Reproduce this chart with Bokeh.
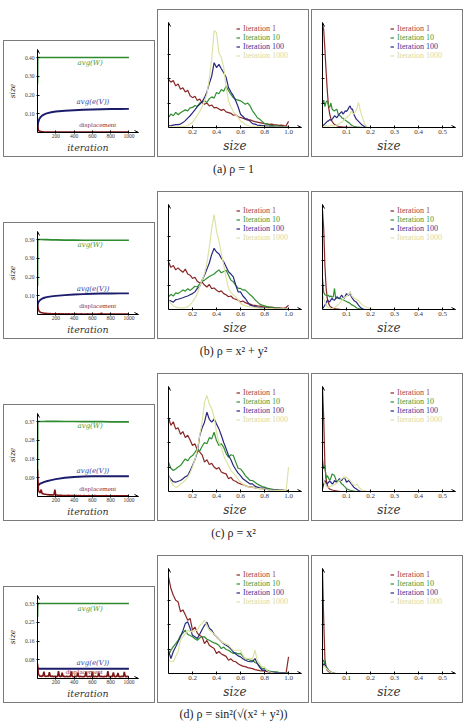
from bokeh.plotting import figure
from bokeh.layouts import column, row
from bokeh.models import (Range1d, FixedTicker, Arrow, OpenHead, Legend, LegendItem,
                          Label, Spacer)
from bokeh.core.validation import silence
from bokeh.core.validation.warnings import MISSING_RENDERERS
from bokeh.embed import file_html
from bokeh.resources import INLINE

silence(MISSING_RENDERERS, True)

# ---------------------------------------------------------------- sampling grids
ITER = [0, 2, 5, 10, 20, 30, 50, 75, 100, 150, 200, 300, 400, 500, 600, 700, 800, 900, 1000]
ITER_D = list(range(0, 1001, 10))
SIZE_MID = [round(0.02 * i, 2) for i in range(51)]
SIZE_RIGHT = [round(0.005 * i, 3) for i in range(51)] + [0.5]

ITER_TICKS = [200, 400, 600, 800, 1000]
ITER_TICK_LABELS = ["200", "400", "600", "800", "1000"]
MID_TICKS = [0.2, 0.4, 0.6, 0.8, 1.0]
MID_TICK_LABELS = ["0.2", "0.4", "0.6", "0.8", "1.0"]
RIGHT_TICKS = [0.1, 0.2, 0.3, 0.4, 0.5]
RIGHT_TICK_LABELS = ["0.1", "0.2", "0.3", "0.4", "0.5"]
DENSITY_TICKS = [1, 2, 3]

LEGEND_LABELS = ["Iteration 1", "Iteration 10", "Iteration 100", "Iteration 1000"]
CAPTIONS = ["(a) ρ = 1", "(b) ρ = x² + y²", "(c) ρ = x²", "(d) ρ = sin²(√(x² + y²))"]

# ---------------------------------------------------------------- (a) rho = 1
W_A = [0.26, 0.40, 0.40, 0.40, 0.40, 0.40, 0.40, 0.40, 0.40, 0.40, 0.40, 0.40, 0.40, 0.40, 0.40, 0.40, 0.40, 0.40, 0.40]
EV_A = [0.005, 0.030, 0.045, 0.058, 0.072, 0.080, 0.090, 0.097, 0.102, 0.108, 0.112, 0.116, 0.119, 0.121, 0.123, 0.124, 0.125, 0.125, 0.126]
D_A = [0.040, 0.012, 0.008, 0.006, 0.005, 0.004, 0.004, 0.003, 0.003, 0.003,
       0.003, 0.003, 0.002, 0.003, 0.002, 0.002, 0.002, 0.002, 0.002, 0.002,
       0.002, 0.002, 0.002, 0.002, 0.002, 0.002, 0.002, 0.002, 0.002, 0.002,
       0.002, 0.002, 0.002, 0.002, 0.002, 0.002, 0.002, 0.002, 0.002, 0.002,
       0.002, 0.002, 0.002, 0.002, 0.002, 0.002, 0.002, 0.002, 0.002, 0.002,
       0.002, 0.002, 0.002, 0.002, 0.002, 0.002, 0.002, 0.002, 0.002, 0.002,
       0.002, 0.002, 0.002, 0.002, 0.002, 0.002, 0.002, 0.002, 0.002, 0.002,
       0.002, 0.002, 0.002, 0.002, 0.002, 0.002, 0.002, 0.002, 0.002, 0.002,
       0.002, 0.002, 0.002, 0.002, 0.002, 0.002, 0.002, 0.002, 0.002, 0.002,
       0.002, 0.002, 0.002, 0.002, 0.002, 0.002, 0.002, 0.002, 0.002, 0.002,
       0.002]
Y_TICKS_A = [0.1, 0.2, 0.3, 0.4]
Y_LABELS_A = ["0.10", "0.20", "0.30", "0.40"]

HA1 = [1.97, 1.85, 1.92, 1.70, 1.78, 1.56, 1.62, 1.45, 1.52, 1.30,
       1.22, 1.28, 1.10, 1.16, 1.02, 0.95, 1.00, 0.88, 0.92, 0.80,
       0.82, 0.76, 0.70, 0.74, 0.64, 0.61, 0.58, 0.50, 0.52, 0.44,
       0.41, 0.38, 0.34, 0.30, 0.31, 0.27, 0.24, 0.22, 0.20, 0.18,
       0.16, 0.15, 0.13, 0.14, 0.11, 0.11, 0.09, 0.10, 0.08, 0.07, 0.25]
HA10 = [0.41, 0.55, 0.48, 0.62, 0.52, 0.60, 0.66, 0.72, 0.68, 0.80,
        0.82, 0.90, 0.86, 1.00, 1.05, 1.09, 1.02, 1.18, 1.25, 1.20,
        1.43, 1.38, 1.55, 1.48, 1.70, 1.50, 1.35, 1.22, 1.15, 1.12,
        1.09, 1.02, 0.95, 1.00, 0.88, 0.68, 0.55, 0.40, 0.34, 0.25,
        0.16, 0.14, 0.10, 0.09, 0.07, 0.07, 0.05, 0.05, 0.04, 0.03, 0.03]
HA100 = [0.07, 0.08, 0.10, 0.12, 0.12, 0.14, 0.20, 0.28, 0.38, 0.48,
         0.60, 0.72, 0.85, 0.95, 1.05, 1.22, 1.45, 1.80, 2.10, 2.65,
         2.45, 2.58, 2.40, 2.24, 2.05, 1.63, 1.45, 1.30, 1.09, 0.85,
         0.54, 0.45, 0.36, 0.34, 0.25, 0.16, 0.14, 0.10, 0.09, 0.08,
         0.07, 0.06, 0.05, 0.05, 0.04, 0.03, 0.03, 0.03, 0.02, 0.02, 0.02]
HA1000 = [0.03, 0.03, 0.02, 0.03, 0.03, 0.03, 0.04, 0.05, 0.08, 0.15,
          0.20, 0.35, 0.50, 0.65, 0.85, 1.09, 1.36, 2.00, 2.80, 3.95,
          3.88, 3.05, 2.86, 2.45, 1.63, 1.09, 0.85, 0.65, 0.54, 0.40,
          0.27, 0.20, 0.12, 0.08, 0.06, 0.05, 0.04, 0.03, 0.03, 0.03,
          0.03, 0.02, 0.02, 0.02, 0.02, 0.02, 0.02, 0.02, 0.02, 0.02, 0.02]

RA1 = [4.22, 4.00, 3.20, 2.30, 1.50, 0.85, 0.55, 0.35, 0.25, 0.18,
       0.12, 0.10, 0.07, 0.05, 0.04, 0.03, 0.03, 0.02, 0.02, 0.02,
       0.01, 0.01, 0.01, 0.01, 0.01, 0.00, 0.00, 0.00, 0.00, 0.00,
       0.00, 0.00, 0.00, 0.00, 0.00, 0.00, 0.00, 0.00, 0.00, 0.00,
       0.00, 0.00, 0.00, 0.00, 0.00, 0.00, 0.00, 0.00, 0.00, 0.00, 0.00, 0.00]
RA10 = [0.95, 1.12, 0.85, 1.05, 1.10, 0.90, 0.82, 1.00, 0.75, 0.70,
        0.68, 0.72, 0.75, 0.55, 0.48, 0.48, 0.40, 0.38, 0.34, 0.30,
        0.27, 0.22, 0.20, 0.15, 0.10, 0.07, 0.05, 0.04, 0.03, 0.02,
        0.02, 0.01, 0.01, 0.01, 0.00, 0.00, 0.00, 0.00, 0.00, 0.00,
        0.00, 0.00, 0.00, 0.00, 0.00, 0.00, 0.00, 0.00, 0.00, 0.00, 0.00, 0.00]
RA100 = [0.07, 0.10, 0.15, 0.20, 0.25, 0.27, 0.32, 0.30, 0.34, 0.40,
         0.48, 0.44, 0.40, 0.48, 0.55, 0.60, 0.65, 0.55, 0.61, 0.68,
         0.66, 0.72, 0.82, 0.88, 0.75, 0.75, 0.55, 0.45, 0.35, 0.30,
         0.25, 0.20, 0.15, 0.10, 0.07, 0.04, 0.02, 0.01, 0.00, 0.00,
         0.00, 0.00, 0.00, 0.00, 0.00, 0.00, 0.00, 0.00, 0.00, 0.00, 0.00, 0.00]
RA1000 = [0.00, 0.03, 0.05, 0.08, 0.06, 0.05, 0.07, 0.10, 0.08, 0.05,
          0.06, 0.08, 0.10, 0.12, 0.15, 0.20, 0.22, 0.27, 0.30, 0.35,
          0.40, 0.45, 0.48, 0.55, 0.68, 0.60, 0.55, 0.62, 0.70, 0.85,
          1.02, 0.80, 0.60, 0.45, 0.30, 0.15, 0.08, 0.04, 0.02, 0.01,
          0.00, 0.00, 0.00, 0.00, 0.00, 0.00, 0.00, 0.00, 0.00, 0.00, 0.00, 0.00]

# ---------------------------------------------------------------- (b) rho = x^2 + y^2
W_B = [0.15, 0.394, 0.394, 0.394, 0.394, 0.394, 0.394, 0.393, 0.393, 0.392, 0.392, 0.391, 0.391, 0.390, 0.390, 0.390, 0.390, 0.390, 0.390]
EV_B = [0.040, 0.050, 0.058, 0.065, 0.072, 0.077, 0.083, 0.088, 0.091, 0.095, 0.098, 0.102, 0.105, 0.107, 0.109, 0.110, 0.110, 0.111, 0.111]
D_B = [0.050, 0.025, 0.016, 0.012, 0.010, 0.009, 0.008, 0.007, 0.006, 0.006,
       0.005, 0.005, 0.005, 0.004, 0.005, 0.004, 0.004, 0.004, 0.004, 0.004,
       0.004, 0.004, 0.003, 0.004, 0.004, 0.003, 0.004, 0.003, 0.004, 0.003,
       0.003, 0.004, 0.003, 0.003, 0.004, 0.003, 0.003, 0.003, 0.004, 0.003,
       0.003, 0.003, 0.004, 0.003, 0.003, 0.003, 0.003, 0.003, 0.004, 0.003,
       0.003, 0.003, 0.003, 0.003, 0.003, 0.004, 0.003, 0.003, 0.003, 0.003,
       0.003, 0.003, 0.003, 0.003, 0.003, 0.003, 0.003, 0.004, 0.003, 0.003,
       0.008, 0.003, 0.003, 0.003, 0.003, 0.003, 0.003, 0.003, 0.003, 0.003,
       0.003, 0.003, 0.003, 0.003, 0.003, 0.003, 0.003, 0.003, 0.003, 0.003,
       0.003, 0.003, 0.003, 0.003, 0.003, 0.003, 0.003, 0.003, 0.003, 0.003,
       0.003]
Y_TICKS_B = [0.0985, 0.197, 0.2955, 0.394]
Y_LABELS_B = ["0.10", "0.20", "0.30", "0.39"]

HB1 = [1.95, 1.72, 1.80, 1.62, 1.70, 1.60, 1.52, 1.65, 1.45, 1.40,
       1.27, 1.32, 1.15, 1.08, 1.12, 1.00, 0.92, 1.02, 0.85, 0.88,
       0.79, 0.72, 0.76, 0.65, 0.60, 0.52, 0.55, 0.45, 0.42, 0.38,
       0.31, 0.35, 0.28, 0.24, 0.22, 0.18, 0.17, 0.15, 0.14, 0.12,
       0.11, 0.10, 0.09, 0.10, 0.08, 0.07, 0.07, 0.06, 0.05, 0.08, 0.18]
HB10 = [0.52, 0.62, 0.55, 0.68, 0.65, 0.72, 0.80, 0.75, 0.85, 0.78,
        0.86, 0.95, 0.92, 1.05, 1.15, 1.20, 1.28, 1.35, 1.40, 1.45,
        1.54, 1.62, 1.50, 1.55, 1.60, 1.40, 1.20, 1.13, 1.00, 0.86,
        0.86, 0.80, 0.79, 0.70, 0.60, 0.52, 0.40, 0.31, 0.22, 0.18,
        0.15, 0.12, 0.10, 0.08, 0.07, 0.06, 0.05, 0.04, 0.04, 0.03, 0.03]
HB100 = [0.38, 0.35, 0.30, 0.40, 0.42, 0.45, 0.48, 0.52, 0.55, 0.60,
         0.65, 0.72, 0.86, 0.95, 1.20, 1.40, 1.65, 1.90, 2.25, 2.50,
         2.35, 2.28, 2.10, 1.95, 1.75, 1.54, 1.45, 1.33, 1.00, 0.72,
         0.72, 0.55, 0.45, 0.30, 0.18, 0.15, 0.12, 0.10, 0.08, 0.07,
         0.06, 0.05, 0.05, 0.04, 0.04, 0.03, 0.03, 0.03, 0.02, 0.02, 0.02]
HB1000 = [0.38, 0.25, 0.15, 0.10, 0.08, 0.07, 0.06, 0.08, 0.11, 0.20,
          0.31, 0.45, 0.65, 0.95, 1.20, 1.47, 1.90, 2.55, 3.30, 3.88,
          3.20, 2.80, 2.30, 1.80, 1.30, 0.86, 0.70, 0.60, 0.52, 0.40,
          0.24, 0.20, 0.15, 0.13, 0.11, 0.10, 0.08, 0.07, 0.06, 0.05,
          0.05, 0.04, 0.04, 0.04, 0.03, 0.03, 0.03, 0.03, 0.03, 0.03, 0.03]

RB1 = [4.05, 3.30, 1.80, 0.90, 0.45, 0.25, 0.15, 0.10, 0.07, 0.05,
       0.04, 0.03, 0.02, 0.02, 0.01, 0.00, 0.00, 0.00, 0.00, 0.00,
       0.00, 0.00, 0.00, 0.00, 0.00, 0.00, 0.00, 0.00, 0.00, 0.00,
       0.00, 0.00, 0.00, 0.00, 0.00, 0.00, 0.00, 0.00, 0.00, 0.00,
       0.00, 0.00, 0.00, 0.00, 0.00, 0.00, 0.00, 0.00, 0.00, 0.00, 0.00, 0.00]
RB10 = [1.27, 0.70, 0.60, 0.58, 0.55, 0.58, 0.52, 0.55, 0.50, 0.52,
        0.86, 0.45, 0.48, 0.46, 0.44, 0.45, 0.42, 0.40, 0.38, 0.35,
        0.33, 0.30, 0.28, 0.25, 0.20, 0.18, 0.15, 0.12, 0.08, 0.05,
        0.04, 0.03, 0.02, 0.01, 0.00, 0.00, 0.00, 0.00, 0.00, 0.00,
        0.00, 0.00, 0.00, 0.00, 0.00, 0.00, 0.00, 0.00, 0.00, 0.00, 0.00, 0.00]
RB100 = [0.04, 0.10, 0.18, 0.28, 0.38, 0.35, 0.31, 0.40, 0.45, 0.40,
         0.38, 0.45, 0.52, 0.48, 0.45, 0.52, 0.59, 0.50, 0.45, 0.55,
         0.65, 0.60, 0.59, 0.72, 0.52, 0.45, 0.38, 0.34, 0.31, 0.25,
         0.18, 0.12, 0.07, 0.04, 0.02, 0.01, 0.00, 0.00, 0.00, 0.00,
         0.00, 0.00, 0.00, 0.00, 0.00, 0.00, 0.00, 0.00, 0.00, 0.00, 0.00, 0.00]
RB1000 = [0.59, 0.45, 0.31, 0.20, 0.11, 0.08, 0.06, 0.04, 0.04, 0.05,
          0.08, 0.11, 0.15, 0.20, 0.24, 0.30, 0.36, 0.42, 0.48, 0.52,
          0.52, 0.59, 0.62, 0.72, 0.60, 0.52, 0.50, 0.45, 0.42, 0.38,
          0.38, 0.30, 0.24, 0.20, 0.16, 0.13, 0.11, 0.09, 0.07, 0.05,
          0.04, 0.03, 0.02, 0.01, 0.00, 0.00, 0.00, 0.00, 0.00, 0.00, 0.00, 0.00]

# ---------------------------------------------------------------- (c) rho = x^2
W_C = [0.10, 0.368, 0.368, 0.368, 0.368, 0.368, 0.368, 0.368, 0.369, 0.369, 0.369, 0.368, 0.368, 0.367, 0.367, 0.367, 0.366, 0.366, 0.366]
EV_C = [0.040, 0.045, 0.050, 0.055, 0.060, 0.063, 0.067, 0.072, 0.075, 0.080, 0.085, 0.092, 0.096, 0.098, 0.099, 0.099, 0.099, 0.099, 0.099]
D_C = [0.134, 0.030, 0.022, 0.018, 0.034, 0.015, 0.014, 0.012, 0.011, 0.011,
       0.010, 0.009, 0.009, 0.008, 0.008, 0.008, 0.008, 0.007, 0.007, 0.034,
       0.007, 0.007, 0.006, 0.006, 0.006, 0.006, 0.006, 0.005, 0.005, 0.005,
       0.005, 0.005, 0.005, 0.005, 0.006, 0.005, 0.005, 0.005, 0.005, 0.005,
       0.005, 0.004, 0.005, 0.005, 0.004, 0.005, 0.004, 0.005, 0.004, 0.004,
       0.004, 0.005, 0.004, 0.004, 0.004, 0.004, 0.005, 0.004, 0.004, 0.004,
       0.004, 0.004, 0.004, 0.005, 0.004, 0.004, 0.004, 0.004, 0.004, 0.004,
       0.004, 0.004, 0.004, 0.004, 0.004, 0.005, 0.004, 0.004, 0.004, 0.004,
       0.004, 0.004, 0.004, 0.004, 0.004, 0.004, 0.004, 0.004, 0.004, 0.004,
       0.004, 0.004, 0.004, 0.004, 0.004, 0.004, 0.004, 0.004, 0.004, 0.004,
       0.004]
Y_TICKS_C = [0.092, 0.184, 0.276, 0.368]
Y_LABELS_C = ["0.09", "0.18", "0.28", "0.37"]

HC1 = [3.03, 2.70, 2.85, 2.55, 2.60, 2.34, 2.45, 2.20, 2.30, 2.10,
       1.88, 1.95, 1.70, 1.61, 1.50, 1.20, 1.30, 1.10, 1.15, 1.00,
       0.92, 0.98, 0.80, 0.75, 0.72, 0.52, 0.58, 0.45, 0.42, 0.35,
       0.31, 0.28, 0.24, 0.20, 0.19, 0.18, 0.15, 0.14, 0.12, 0.12,
       0.11, 0.09, 0.08, 0.08, 0.07, 0.07, 0.06, 0.05, 0.05, 0.04, 0.04]
HC10 = [1.20, 0.95, 0.86, 0.92, 1.00, 1.06, 1.20, 1.33, 1.25, 1.40,
        1.47, 1.60, 1.74, 1.65, 1.85, 2.00, 1.95, 2.20, 2.15, 2.42,
        2.08, 1.88, 1.95, 1.80, 1.55, 1.40, 1.50, 1.47, 1.20, 0.95,
        0.92, 0.80, 0.65, 0.55, 0.45, 0.45, 0.38, 0.31, 0.25, 0.20,
        0.18, 0.14, 0.12, 0.10, 0.08, 0.08, 0.06, 0.05, 0.05, 0.04, 0.04]
HC100 = [0.65, 0.50, 0.40, 0.38, 0.42, 0.45, 0.52, 0.60, 0.65, 0.85,
         1.06, 1.30, 1.60, 2.28, 2.60, 2.83, 3.24, 2.95, 2.83, 2.97,
         2.76, 2.56, 2.30, 2.00, 1.75, 1.47, 1.30, 1.06, 0.90, 0.75,
         0.65, 0.52, 0.45, 0.38, 0.31, 0.31, 0.22, 0.18, 0.15, 0.14,
         0.14, 0.10, 0.08, 0.08, 0.07, 0.07, 0.05, 0.05, 0.04, 0.04, 0.04]
HC1000 = [0.65, 0.40, 0.25, 0.18, 0.20, 0.31, 0.38, 0.45, 0.59, 0.75,
          1.00, 1.30, 1.70, 2.30, 2.83, 3.65, 3.92, 3.58, 3.38, 3.03,
          2.42, 2.00, 1.80, 1.47, 1.25, 1.06, 0.85, 0.75, 0.65, 0.50,
          0.38, 0.30, 0.24, 0.20, 0.18, 0.18, 0.15, 0.13, 0.12, 0.11,
          0.11, 0.08, 0.07, 0.06, 0.05, 0.05, 0.05, 0.04, 0.04, 0.04, 0.99]

RC1 = [4.26, 3.00, 1.06, 0.52, 0.25, 0.15, 0.10, 0.08, 0.06, 0.05,
       0.04, 0.03, 0.02, 0.01, 0.01, 0.00, 0.00, 0.00, 0.00, 0.00,
       0.00, 0.00, 0.00, 0.00, 0.00, 0.00, 0.00, 0.00, 0.00, 0.00,
       0.00, 0.00, 0.00, 0.00, 0.00, 0.00, 0.00, 0.00, 0.00, 0.00,
       0.00, 0.00, 0.00, 0.00, 0.00, 0.00, 0.00, 0.00, 0.00, 0.00, 0.00, 0.00]
RC10 = [1.33, 0.92, 1.06, 0.52, 0.65, 0.55, 0.45, 0.55, 0.72, 0.68,
        0.65, 0.50, 0.38, 0.42, 0.45, 0.38, 0.31, 0.28, 0.22, 0.18,
        0.11, 0.09, 0.07, 0.05, 0.04, 0.03, 0.02, 0.01, 0.00, 0.00,
        0.00, 0.00, 0.00, 0.00, 0.00, 0.00, 0.00, 0.00, 0.00, 0.00,
        0.00, 0.00, 0.00, 0.00, 0.00, 0.00, 0.00, 0.00, 0.00, 0.00, 0.00, 0.00]
RC100 = [0.11, 0.30, 0.45, 0.35, 0.31, 0.38, 0.42, 0.38, 0.31, 0.35,
         0.45, 0.40, 0.38, 0.45, 0.52, 0.48, 0.45, 0.52, 0.59, 0.50,
         0.38, 0.42, 0.45, 0.38, 0.31, 0.25, 0.18, 0.14, 0.11, 0.07,
         0.04, 0.02, 0.01, 0.00, 0.00, 0.00, 0.00, 0.00, 0.00, 0.00,
         0.00, 0.00, 0.00, 0.00, 0.00, 0.00, 0.00, 0.00, 0.00, 0.00, 0.00, 0.00]
RC1000 = [0.65, 0.45, 0.31, 0.22, 0.18, 0.18, 0.20, 0.22, 0.24, 0.26,
          0.28, 0.31, 0.35, 0.40, 0.45, 0.48, 0.52, 0.55, 0.59, 0.55,
          0.59, 0.52, 0.50, 0.45, 0.38, 0.31, 0.28, 0.24, 0.28, 0.31,
          0.18, 0.14, 0.10, 0.07, 0.05, 0.04, 0.02, 0.01, 0.00, 0.00,
          0.00, 0.00, 0.00, 0.00, 0.00, 0.00, 0.00, 0.00, 0.00, 0.00, 0.00, 0.00]

# ---------------------------------------------------------------- (d) rho = sin^2(sqrt(x^2 + y^2))
W_D = [0.27, 0.322, 0.325, 0.329, 0.329, 0.329, 0.329, 0.329, 0.329, 0.329, 0.329, 0.329, 0.329, 0.329, 0.329, 0.329, 0.329, 0.329, 0.329]
EV_D = [0.050, 0.046, 0.044, 0.043, 0.043, 0.043, 0.043, 0.043, 0.043, 0.043, 0.043, 0.043, 0.043, 0.043, 0.043, 0.043, 0.043, 0.043, 0.043]
D_D = [0.065, 0.020, 0.012, 0.010, 0.011, 0.009, 0.012, 0.030, 0.010, 0.009,
       0.010, 0.011, 0.009, 0.028, 0.010, 0.009, 0.011, 0.008, 0.010, 0.009,
       0.010, 0.008, 0.009, 0.032, 0.009, 0.010, 0.008, 0.026, 0.009, 0.010,
       0.008, 0.009, 0.010, 0.008, 0.009, 0.010, 0.008, 0.031, 0.009, 0.008,
       0.009, 0.010, 0.008, 0.009, 0.025, 0.009, 0.008, 0.010, 0.009, 0.008,
       0.009, 0.008, 0.010, 0.030, 0.009, 0.008, 0.009, 0.010, 0.008, 0.009,
       0.028, 0.009, 0.008, 0.010, 0.009, 0.008, 0.009, 0.026, 0.008, 0.009,
       0.010, 0.008, 0.009, 0.008, 0.010, 0.009, 0.008, 0.032, 0.009, 0.008,
       0.009, 0.010, 0.008, 0.027, 0.009, 0.008, 0.010, 0.009, 0.024, 0.008,
       0.009, 0.008, 0.010, 0.009, 0.008, 0.029, 0.009, 0.008, 0.010, 0.009,
       0.008]
Y_TICKS_D = [0.08225, 0.1645, 0.24675, 0.329]
Y_LABELS_D = ["0.08", "0.16", "0.25", "0.33"]

HD1 = [3.95, 3.47, 3.20, 2.99, 2.93, 2.52, 2.60, 2.40, 2.18, 2.25,
       1.77, 1.90, 1.65, 1.55, 1.50, 1.22, 1.35, 1.15, 1.08, 1.02,
       0.82, 0.90, 0.80, 0.75, 0.70, 0.54, 0.60, 0.50, 0.48, 0.40,
       0.34, 0.30, 0.28, 0.24, 0.22, 0.20, 0.16, 0.14, 0.12, 0.11,
       0.11, 0.08, 0.06, 0.05, 0.04, 0.03, 0.03, 0.03, 0.02, 0.03, 0.68]
HD10 = [0.75, 0.95, 1.10, 1.22, 1.35, 1.56, 1.65, 1.77, 1.60, 1.55,
        1.50, 1.42, 1.36, 1.45, 1.50, 1.50, 1.40, 1.36, 1.30, 1.25,
        1.22, 1.15, 1.02, 1.08, 0.98, 0.95, 0.88, 0.82, 0.85, 0.80,
        0.82, 0.70, 0.61, 0.58, 0.54, 0.54, 0.45, 0.41, 0.30, 0.20,
        0.20, 0.14, 0.10, 0.08, 0.07, 0.07, 0.05, 0.04, 0.04, 0.03, 0.03]
HD100 = [0.95, 0.61, 0.90, 1.09, 1.30, 1.50, 1.75, 2.04, 2.11, 1.85,
         1.56, 1.50, 1.43, 1.60, 1.80, 1.97, 2.10, 1.85, 1.77, 1.60,
         1.50, 1.40, 1.30, 1.22, 1.15, 1.09, 1.00, 0.88, 0.80, 0.72,
         0.68, 0.60, 0.54, 0.50, 0.48, 0.48, 0.61, 0.41, 0.25, 0.14,
         0.14, 0.10, 0.07, 0.06, 0.05, 0.04, 0.03, 0.03, 0.03, 0.02, 0.02]
HD1000 = [0.54, 0.50, 0.48, 0.70, 0.88, 1.36, 1.50, 1.63, 1.77, 1.72,
          1.70, 1.75, 1.77, 1.95, 2.05, 2.18, 1.95, 1.77, 1.70, 1.60,
          1.50, 1.40, 1.29, 1.25, 1.20, 1.16, 1.05, 0.95, 0.95, 0.95,
          0.95, 0.75, 0.61, 0.61, 0.61, 0.61, 0.95, 0.54, 0.40, 0.27,
          0.27, 0.12, 0.07, 0.04, 0.02, 0.01, 0.01, 0.01, 0.01, 0.01, 0.01]

RD1 = [4.25, 2.20, 0.60, 0.25, 0.12, 0.08, 0.05, 0.03, 0.02, 0.01,
       0.00, 0.00, 0.00, 0.00, 0.00, 0.00, 0.00, 0.00, 0.00, 0.00,
       0.00, 0.00, 0.00, 0.00, 0.00, 0.00, 0.00, 0.00, 0.00, 0.00,
       0.00, 0.00, 0.00, 0.00, 0.00, 0.00, 0.00, 0.00, 0.00, 0.00,
       0.00, 0.00, 0.00, 0.00, 0.00, 0.00, 0.00, 0.00, 0.00, 0.00, 0.00, 0.00]
RD10 = [0.45, 0.55, 0.40, 0.30, 0.22, 0.15, 0.10, 0.06, 0.04, 0.02,
        0.01, 0.00, 0.00, 0.00, 0.00, 0.00, 0.00, 0.00, 0.00, 0.00,
        0.00, 0.00, 0.00, 0.00, 0.00, 0.00, 0.00, 0.00, 0.00, 0.00,
        0.00, 0.00, 0.00, 0.00, 0.00, 0.00, 0.00, 0.00, 0.00, 0.00,
        0.00, 0.00, 0.00, 0.00, 0.00, 0.00, 0.00, 0.00, 0.00, 0.00, 0.00, 0.00]
RD100 = [0.30, 0.40, 0.35, 0.25, 0.18, 0.12, 0.08, 0.05, 0.03, 0.02,
         0.01, 0.00, 0.00, 0.00, 0.00, 0.00, 0.00, 0.00, 0.00, 0.00,
         0.00, 0.00, 0.00, 0.00, 0.00, 0.00, 0.00, 0.00, 0.00, 0.00,
         0.00, 0.00, 0.00, 0.00, 0.00, 0.00, 0.00, 0.00, 0.00, 0.00,
         0.00, 0.00, 0.00, 0.00, 0.00, 0.00, 0.00, 0.00, 0.00, 0.00, 0.00, 0.00]
RD1000 = [0.20, 0.30, 0.28, 0.22, 0.16, 0.12, 0.08, 0.05, 0.03, 0.02,
          0.01, 0.00, 0.00, 0.00, 0.00, 0.00, 0.00, 0.00, 0.00, 0.00,
          0.00, 0.00, 0.00, 0.00, 0.00, 0.00, 0.00, 0.00, 0.00, 0.00,
          0.00, 0.00, 0.00, 0.00, 0.00, 0.00, 0.00, 0.00, 0.00, 0.00,
          0.00, 0.00, 0.00, 0.00, 0.00, 0.00, 0.00, 0.00, 0.00, 0.00, 0.00, 0.00]

# ---------------------------------------------------------------- styling
LINE_COLORS = ["#8a2626", "#2f8f2f", "#28287f", "#dde2a4"]
TEXT_COLORS = ["#9c4646", "#3b9a3b", "#35359a", "#d6daa6"]
C_W, C_EV, C_D = "#2e8a2e", "#1c1c6c", "#7c1414"
T_W, T_EV, T_D = "#3f9d3f", "#3c3ca0", "#9a3030"
FRAME_CSS = {"outline": "1px solid #7a7a7a"}
DENSITY_TOP = 4.29


def style_axes(p, tick_size):
    p.grid.visible = False
    p.outline_line_color = None
    for ax in p.axis:
        ax.axis_line_color = "black"
        ax.axis_line_width = 1
        ax.major_tick_line_color = "black"
        ax.minor_tick_line_color = None
        ax.major_tick_in = 2
        ax.major_tick_out = 1
        ax.major_label_text_font = "Liberation Serif"
        ax.major_label_text_font_size = tick_size
        ax.major_label_text_color = "#3a3a3a"
        ax.axis_label_text_font = "DejaVu Serif"
        ax.axis_label_text_font_style = "italic"
        ax.axis_label_text_color = "#333333"
    p.styles = FRAME_CSS


def add_arrows(p, xmax, ymax):
    for x0, y0, x1, y1 in [(0, 0, xmax, 0), (0, 0, 0, ymax)]:
        p.add_layout(Arrow(x_start=x0, y_start=y0, x_end=x1, y_end=y1,
                           line_color="black", line_width=1,
                           end=OpenHead(size=4, line_color="black", line_width=1)))


def overview_panel(w, ev, disp, yticks, ylabels, lab_w, lab_ev, lab_d):
    ymax = yticks[-1]
    top = ymax * 83 / 75
    xmax = 1105
    p = figure(width=150, height=115, x_range=Range1d(0, xmax), y_range=Range1d(0, top),
               output_backend="svg", toolbar_location=None,
               min_border_left=29, min_border_right=16, min_border_top=8, min_border_bottom=24)
    style_axes(p, "5.5px")
    p.xaxis.ticker = FixedTicker(ticks=ITER_TICKS)
    p.xaxis.major_label_overrides = dict(zip(ITER_TICKS, ITER_TICK_LABELS))
    p.xaxis.major_label_standoff = 0
    p.xaxis.axis_label = "iteration"
    p.xaxis.axis_label_text_font_size = "9.5px"
    p.xaxis.axis_label_standoff = 1
    p.yaxis.ticker = FixedTicker(ticks=yticks)
    p.yaxis.major_label_overrides = dict(zip(yticks, ylabels))
    p.yaxis.major_label_standoff = 2
    p.yaxis.axis_label = "size"
    p.yaxis.axis_label_text_font_size = "7.5px"
    p.yaxis.axis_label_standoff = 5

    p.line(ITER, w, line_color=C_W, line_width=1.7)
    p.line(ITER, ev, line_color=C_EV, line_width=1.9)
    p.line(ITER_D, disp, line_color=C_D, line_width=1.6)
    add_arrows(p, xmax, top)

    for (x, y), txt, col, font, style in [
        (lab_w, "avg(W)", T_W, "DejaVu Serif", "italic"),
        (lab_ev, "avg(e(V))", T_EV, "DejaVu Serif", "italic"),
        (lab_d, "displacement", T_D, "Liberation Serif", "normal"),
    ]:
        p.add_layout(Label(x=x, y=y, text=txt, text_color=col, text_font=font,
                           text_font_style=style, text_font_size="7px",
                           text_align="center", text_baseline="middle"))
    return p


def histogram_panel(xs, series, xmax, ticks, tick_labels):
    p = figure(width=150, height=146, x_range=Range1d(0, xmax), y_range=Range1d(0, DENSITY_TOP),
               output_backend="svg", toolbar_location=None,
               min_border_left=10, min_border_right=7, min_border_top=12, min_border_bottom=29)
    style_axes(p, "7px")
    p.xaxis.ticker = FixedTicker(ticks=ticks)
    p.xaxis.major_label_overrides = dict(zip(ticks, tick_labels))
    p.xaxis.major_label_standoff = 1
    p.xaxis.axis_label = "size"
    p.xaxis.axis_label_text_font_size = "12px"
    p.xaxis.axis_label_standoff = 2
    p.yaxis.ticker = FixedTicker(ticks=DENSITY_TICKS)
    p.yaxis.major_label_overrides = {t: "" for t in DENSITY_TICKS}
    p.yaxis.major_label_standoff = 0

    rends = [p.line(xs, ys, line_color=c, line_width=1.2) for ys, c in zip(series, LINE_COLORS)]
    add_arrows(p, xmax, DENSITY_TOP)

    # one single-entry legend per series so each label keeps its own colour;
    # a tuple location is the legend's bottom-left corner inside the frame
    for i, (r, lab, col) in enumerate(zip(rends, LEGEND_LABELS, TEXT_COLORS)):
        p.add_layout(Legend(items=[LegendItem(label=lab, renderers=[r])],
                            location=(68, 94 - 9 * i), orientation="vertical",
                            label_text_color=col, label_text_font="Liberation Serif",
                            label_text_font_size="8px", label_height=9, glyph_height=9,
                            glyph_width=4, label_standoff=3, padding=0, margin=0, spacing=0,
                            border_line_alpha=0, background_fill_alpha=0))
    return p


def caption(text, height, y):
    p = figure(width=466, height=height, x_range=Range1d(0, 1), y_range=Range1d(0, 1),
               x_axis_type=None, y_axis_type=None, min_border=0,
               output_backend="svg", toolbar_location=None)
    p.outline_line_color = None
    p.background_fill_color = None
    p.border_fill_color = None
    p.add_layout(Label(x=233, y=y, x_units="screen", y_units="screen", text=text,
                       text_align="center", text_baseline="middle",
                       text_font="Liberation Serif", text_font_size="12px", text_color="#222222"))
    return p


ROWS = [
    (W_A, EV_A, D_A, Y_TICKS_A, Y_LABELS_A, (576, 0.370), (607, 0.164), (660, 0.041),
     [HA1, HA10, HA100, HA1000], [RA1, RA10, RA100, RA1000]),
    (W_B, EV_B, D_B, Y_TICKS_B, Y_LABELS_B, (576, 0.364), (608, 0.136), (660, 0.044),
     [HB1, HB10, HB100, HB1000], [RB1, RB10, RB100, RB1000]),
    (W_C, EV_C, D_C, Y_TICKS_C, Y_LABELS_C, (576, 0.348), (607, 0.126), (660, 0.039),
     [HC1, HC10, HC100, HC1000], [RC1, RC10, RC100, RC1000]),
    (W_D, EV_D, D_D, Y_TICKS_D, Y_LABELS_D, (576, 0.304), (607, 0.068), (512, 0.029),
     [HD1, HD10, HD100, HD1000], [RD1, RD10, RD100, RD1000]),
]

children = [Spacer(width=466, height=10)]
for k, (w, ev, d, yt, yl, lw, le, ld, mid, right) in enumerate(ROWS):
    left = overview_panel(w, ev, d, yt, yl, lw, le, ld)
    middle = histogram_panel(SIZE_MID, mid, 1.108, MID_TICKS, MID_TICK_LABELS)
    rightp = histogram_panel(SIZE_RIGHT, right, 0.554, RIGHT_TICKS, RIGHT_TICK_LABELS)
    children.append(row(Spacer(width=4, height=146),
                        column(Spacer(width=150, height=31), left),
                        Spacer(width=4, height=146), middle,
                        Spacer(width=4, height=146), rightp))
    if k < 3:
        children.append(caption(CAPTIONS[k], 36, 24))
    else:
        children.append(caption(CAPTIONS[k], 21, 10))

layout = column(*children)
open("out.html", "w").write(file_html(layout, INLINE, title="size distributions"))
